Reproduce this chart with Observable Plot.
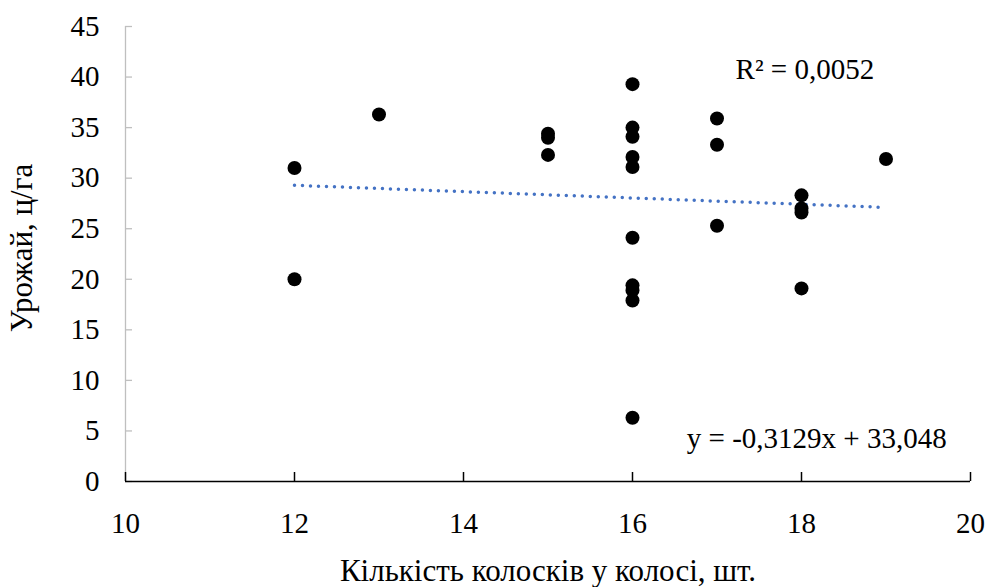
<!DOCTYPE html>
<html>
<head>
<meta charset="utf-8">
<script src="https://cdn.jsdelivr.net/npm/d3@7"></script>
<script src="https://cdn.jsdelivr.net/npm/@observablehq/plot@0.6"></script>
<style>
  html, body { margin: 0; padding: 0; background: #fff; }
  #chart svg { display: block; }
</style>
</head>
<body>
<div id="chart"></div>
<script>
// Number of spikelets per ear vs. yield
const spikelets = [12, 12, 13, 15, 15, 15, 16, 16, 16, 16, 16, 16, 16, 16, 16, 16, 17, 17, 17, 18, 18, 18, 18, 19];
const yieldCwt  = [31.0, 20.0, 36.3, 34.4, 34.0, 32.3, 39.3, 35.0, 34.1, 32.1, 31.1, 24.1, 19.4, 18.9, 17.9, 6.3, 35.9, 33.3, 25.3, 28.3, 27.0, 26.6, 19.1, 31.9];

// Linear trend line reported on the chart
const slope = -0.3129;
const intercept = 33.048;
const trendRange = [12, 19];
const rSquared = "0,0052";

const xTicks = [10, 12, 14, 16, 18, 20];
const yTicks = [0, 5, 10, 15, 20, 25, 30, 35, 40, 45];

const points = spikelets.map((x, i) => ({x, y: yieldCwt[i]}));
const trend = trendRange.map(x => ({x, y: slope * x + intercept}));

const fmtComma = v => String(v).replace(".", ",");
const equation = `y = ${fmtComma(slope)}x + ${fmtComma(intercept)}`;

const font = "'Liberation Serif', 'Times New Roman', serif";

const chart = Plot.plot({
  width: 987,
  height: 587,
  marginLeft: 125,
  marginRight: 17,
  marginTop: 26,
  marginBottom: 106,
  style: {fontFamily: font, fontSize: "29px", color: "#000", background: "#fff"},
  x: {domain: [10, 20]},
  y: {domain: [0, 45]},
  marks: [
    // vertical axis: grey line with inward ticks
    Plot.ruleX([10], {stroke: "#bfbfbf", strokeWidth: 1.3}),
    Plot.axisY({ticks: yTicks, tickSize: 7, dx: 7, text: null, stroke: "#bfbfbf", strokeWidth: 1.3, label: null}),
    Plot.axisY({ticks: yTicks, tickSize: 0, tickPadding: 26, fill: "#000", fontSize: 29, label: null, tickFormat: d => d}),
    // horizontal axis: dark line with upward ticks
    Plot.axisX({ticks: xTicks, tickSize: 9, dy: -9, text: null, stroke: "#000", strokeWidth: 1.5, label: null}),
    Plot.axisX({ticks: xTicks, tickSize: 0, tickPadding: 31, fill: "#000", fontSize: 29, label: null, tickFormat: d => d}),
    Plot.ruleY([0], {stroke: "#000", strokeWidth: 1.5}),
    // trend line
    Plot.line(trend, {x: "x", y: "y", stroke: "#4472c4", strokeWidth: 3.5, strokeDasharray: "0 8", strokeLinecap: "round"}),
    // observations
    Plot.dot(points, {x: "x", y: "y", r: 7, fill: "#000", stroke: "none"}),
    // annotations
    Plot.text([`R² = ${rSquared}`], {x: 18.04, y: 40.75, fontSize: 29, fill: "#000"}),
    Plot.text([equation], {x: 18.18, y: 4.25, fontSize: 29, fill: "#000"}),
    // axis titles
    Plot.text(["Кількість колосків у колосі, шт."], {frameAnchor: "bottom", textAnchor: "middle", lineAnchor: "middle", dy: 90, fontSize: 31, fill: "#000"}),
    Plot.text(["Урожай, ц/га"], {frameAnchor: "left", textAnchor: "middle", lineAnchor: "middle", dx: -103, dy: -6, rotate: -90, fontSize: 31, fill: "#000"})
  ]
});

document.getElementById("chart").appendChild(chart);
</script>
</body>
</html>
